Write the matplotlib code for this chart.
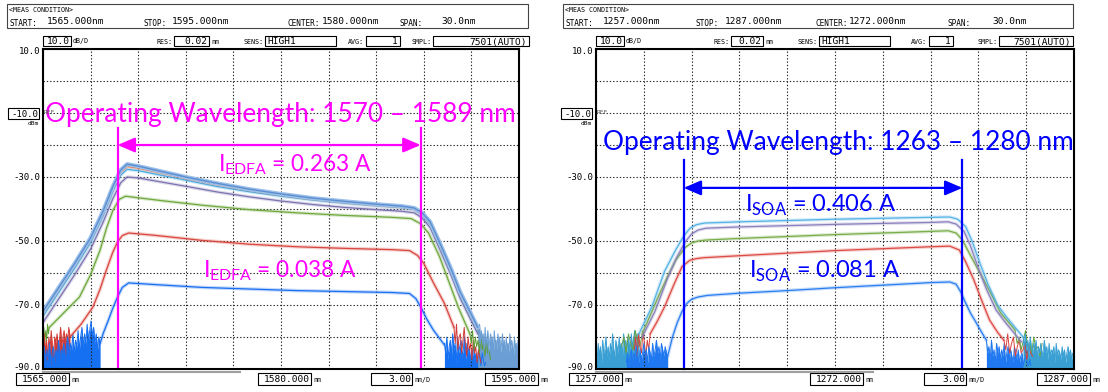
import numpy as np
import matplotlib.pyplot as plt
from matplotlib.patches import Rectangle
from matplotlib.lines import Line2D

# ---------------- EDFA panel (left) ----------------
edfa_span = (1565.0, 1595.0)
edfa_steel_wl = [1565.0, 1566.0, 1567.0, 1568.0, 1568.8, 1569.4, 1569.9, 1570.3, 1571.0, 1572.5, 1574.0, 1576.0, 1578.0,
                 1580.0, 1582.0, 1584.0, 1586.0, 1587.6, 1588.4, 1588.9, 1589.4, 1590.0, 1590.7, 1591.3, 1592.0, 1592.4]
edfa_steel_db = [-72.0, -64.5, -57.0, -49.0, -40.5, -33.0, -27.8, -26.0, -26.6, -28.3, -30.0, -32.0, -33.8,
                 -35.3, -36.6, -37.6, -38.5, -39.1, -39.7, -41.2, -44.0, -50.5, -58.5, -66.0, -73.0, -77.0]
edfa_orange_db = [-72.5, -65.0, -57.5, -49.5, -41.0, -33.6, -28.5, -26.7, -27.2, -28.8, -30.4, -32.4, -34.1,
                  -35.6, -36.9, -37.9, -38.8, -39.4, -40.0, -41.5, -44.4, -51.0, -59.0, -66.5, -73.5, -77.5]
edfa_lblue_db = [-73.5, -66.0, -58.5, -50.5, -42.0, -34.6, -29.4, -27.6, -28.0, -29.5, -31.0, -33.0, -34.6,
                 -36.0, -37.2, -38.2, -39.0, -39.6, -40.2, -41.8, -44.8, -51.5, -59.5, -67.0, -74.0, -78.0]
edfa_purple_db = [-75.5, -68.0, -60.5, -52.5, -44.0, -36.8, -31.8, -30.0, -30.3, -31.6, -32.9, -34.7, -36.2,
                  -37.5, -38.6, -39.5, -40.2, -40.7, -41.2, -42.8, -45.8, -52.5, -60.5, -68.0, -75.0, -79.0]
edfa_green_wl = [1565.4, 1566.3, 1567.3, 1568.0, 1568.6, 1569.0, 1569.4, 1569.8, 1570.2, 1571.0, 1572.5, 1575.0,
                 1578.0, 1581.0, 1584.0, 1587.0, 1588.2, 1588.8, 1589.3, 1590.0, 1590.6, 1591.2, 1591.9]
edfa_green_db = [-77.0, -72.5, -67.5, -60.5, -52.8, -46.0, -40.5, -37.0, -36.0, -36.5, -37.4, -38.8,
                 -40.2, -41.2, -42.0, -42.6, -43.0, -44.6, -47.5, -55.0, -63.0, -71.0, -79.0]
edfa_red_wl = [1566.7, 1567.4, 1568.15, 1568.6, 1569.0, 1569.4, 1569.7, 1570.0, 1570.4, 1572.0, 1575.0, 1578.0,
               1581.0, 1584.0, 1587.0, 1588.1, 1588.6, 1589.0, 1589.6, 1590.3, 1590.9]
edfa_red_db = [-80.0, -76.0, -70.6, -65.0, -59.0, -53.5, -50.3, -48.3, -47.5, -48.2, -49.8, -51.0,
               -51.8, -52.3, -52.7, -53.0, -54.5, -57.0, -63.0, -69.5, -77.0]
edfa_blue_wl = [1568.6, 1568.8, 1569.1, 1569.4, 1569.7, 1570.0, 1570.4, 1572.0, 1575.0, 1578.0, 1581.0, 1584.0,
                1587.0, 1588.1, 1588.5, 1588.8, 1589.2, 1589.6, 1590.0, 1590.3]
edfa_blue_db = [-82.0, -78.8, -75.0, -71.0, -67.5, -64.5, -63.1, -63.6, -64.5, -65.0, -65.5, -65.8,
                -66.1, -66.4, -68.0, -70.6, -74.5, -77.8, -80.5, -82.5]

# noise floor samples (start nm, stop nm, peak values)
edfa_noise_green_l = (1565.0, 1565.4, [-80, -77, -82, -78, -81, -76, -79, -77])
edfa_noise_red_l = (1565.0, 1566.7, [-82, -79, -85, -81, -87, -80, -84, -78, -83, -86, -80, -82, -79, -84, -81, -77,
                                     -83, -80, -78, -82, -79, -81, -77, -80])
edfa_noise_blue_l = (1565.0, 1568.6, [-86, -83, -88, -84, -87, -82, -89, -85, -83, -88, -84, -86, -81, -87, -84, -85,
                                      -82, -88, -83, -80, -86, -82, -84, -79, -85, -81, -83, -78, -84, -80, -77, -83,
                                      -79, -82, -76, -81, -78, -75, -80, -77, -82, -79, -84, -80, -82])
edfa_noise_blue_r = (1590.3, 1592.9, [-82, -85, -80, -87, -83, -81, -86, -79, -84, -82, -88, -80, -85, -83, -81, -86,
                                      -84, -80, -87, -82, -85, -83, -88, -84, -86, -82, -87, -85, -88, -84, -86, -89,
                                      -85, -87, -89, -88])
edfa_noise_red_r = (1590.9, 1592.6, [-77, -82, -76, -84, -80, -79, -85, -81, -77, -83, -86, -80, -84, -82, -87, -81,
                                     -85, -83, -88, -84, -86, -88])
edfa_noise_green_r = (1591.9, 1593.2, [-79, -82, -78, -84, -80, -83, -81, -85, -79, -84, -82, -86, -81, -85, -84, -87])
edfa_noise_steel_r = (1592.4, 1595.0, [-77, -80, -76, -82, -78, -81, -79, -84, -77, -83, -80, -78, -85, -81, -79, -83,
                                       -80, -86, -78, -82, -81, -84, -79, -83, -80, -85, -82, -79, -84, -81, -86, -80,
                                       -83, -82, -85, -79, -84, -81, -83, -86, -80, -84, -82, -85, -81, -83])

# ---------------- SOA panel (right) ----------------
soa_span = (1257.0, 1287.0)
soa_lblue_wl = [1259.7, 1260.5, 1261.3, 1262.0, 1262.5, 1262.9, 1263.3, 1263.8, 1266.0, 1269.0, 1272.0, 1275.0,
                1278.0, 1279.2, 1279.7, 1280.2, 1280.6, 1281.1, 1281.6, 1282.2, 1282.8, 1283.3, 1283.8]
soa_lblue_db = [-79.0, -70.6, -59.5, -52.8, -48.5, -46.0, -44.9, -44.4, -44.0, -43.6, -43.2, -42.9,
                -42.6, -42.5, -43.2, -45.5, -50.0, -57.0, -63.5, -70.0, -74.0, -77.0, -80.0]
soa_purple_wl = [1259.9, 1260.7, 1261.5, 1262.1, 1262.6, 1263.0, 1263.4, 1263.9, 1266.0, 1269.0, 1272.0, 1275.0,
                 1278.0, 1279.1, 1279.6, 1280.1, 1280.5, 1281.0, 1281.5, 1282.1, 1282.7, 1283.2, 1283.7]
soa_purple_db = [-80.0, -72.0, -61.5, -54.8, -50.3, -47.8, -46.6, -46.0, -45.6, -45.2, -44.8, -44.5,
                 -44.2, -44.0, -44.7, -47.0, -51.5, -58.5, -65.0, -71.5, -75.5, -78.5, -81.5]
soa_green_wl = [1259.9, 1260.9, 1261.5, 1262.0, 1262.6, 1263.0, 1263.4, 1263.9, 1266.0, 1269.0, 1272.0, 1275.0,
                1278.0, 1279.1, 1279.6, 1280.0, 1280.5, 1281.1, 1281.8, 1282.4, 1283.3]
soa_green_db = [-79.0, -67.5, -61.0, -56.0, -52.0, -50.6, -50.0, -49.7, -49.2, -48.6, -48.0, -47.5,
                -47.0, -46.8, -47.5, -49.7, -54.5, -60.0, -66.5, -72.5, -77.8]
soa_red_wl = [1260.4, 1260.8, 1261.3, 1261.9, 1262.4, 1262.9, 1263.3, 1263.8, 1266.0, 1269.0, 1272.0, 1275.0,
              1278.0, 1279.2, 1279.8, 1280.2, 1280.7, 1281.2, 1281.7, 1282.2, 1282.6]
soa_red_db = [-79.0, -75.5, -70.6, -63.5, -58.0, -56.0, -55.5, -55.2, -54.6, -53.8, -53.0, -52.4,
              -51.8, -51.6, -52.8, -56.5, -62.0, -68.5, -74.7, -78.5, -81.0]
soa_blue_wl = [1261.5, 1261.8, 1262.1, 1262.4, 1262.7, 1263.0, 1263.4, 1264.0, 1266.0, 1269.0, 1272.0, 1275.0,
               1278.0, 1279.2, 1279.6, 1279.9, 1280.2, 1280.5, 1280.8, 1281.2, 1281.5]
soa_blue_db = [-86.0, -80.0, -75.5, -72.0, -69.5, -68.2, -67.5, -67.0, -66.3, -65.5, -64.6, -63.8,
               -63.0, -62.8, -63.5, -66.0, -69.4, -72.5, -75.0, -78.5, -81.0]

soa_noise_lblue_l = (1257.0, 1259.7, [-84, -87, -82, -86, -83, -88, -81, -85, -84, -80, -86, -83, -87, -82, -85, -79,
                                      -84, -86, -81, -83, -85, -80, -84, -82, -86, -79, -83, -81, -85, -80, -82, -84,
                                      -79, -83, -81, -78, -82, -80, -79, -79])
soa_noise_green_l = (1258.6, 1259.9, [-83, -80, -85, -79, -82, -84, -78, -81, -83, -79])
soa_noise_red_l = (1259.4, 1260.4, [-84, -80, -86, -79, -83, -85, -78, -82, -86, -81, -84, -79])
soa_noise_blue_l = (1258.9, 1261.5, [-88, -85, -89, -86, -84, -88, -85, -87, -83, -86, -88, -84, -87, -85, -82, -86,
                                     -84, -88, -83, -85, -87, -82, -86, -84, -81, -85, -83, -87, -82, -84, -86, -83,
                                     -85, -86])
soa_noise_blue_r = (1281.5, 1284.3, [-81, -85, -83, -87, -81, -86, -84, -88, -82, -85, -83, -87, -84, -86, -82, -88,
                                     -85, -83, -87, -84, -86, -88, -83, -85, -87, -84, -88, -86, -85, -89, -87, -86,
                                     -88, -89, -87, -89])
soa_noise_red_r = (1282.6, 1284.4, [-81, -84, -79, -85, -82, -80, -86, -83, -81, -85, -84, -82, -87, -83, -85, -86])
soa_noise_green_r = (1283.3, 1285.0, [-78, -82, -80, -84, -81, -78, -83, -82, -85, -80, -84, -83, -86, -82])
soa_noise_lblue_r = (1283.8, 1287.0, [-80, -83, -79, -84, -81, -86, -80, -83, -85, -82, -84, -81, -87, -83, -85, -82,
                                      -86, -84, -81, -85, -83, -87, -82, -86, -84, -85, -83, -88, -82, -86, -84, -85,
                                      -87, -83, -86, -84, -88, -85, -83, -86, -84, -87, -85, -86])

edfa_band = (1569.7, 1588.8)
soa_band = (1262.5, 1280.0)

W, H = 1108, 392
fig = plt.figure(figsize=(W / 100, H / 100), dpi=100)
mono = 'DejaVu Sans Mono'
sans = ['Lato', 'DejaVu Sans']


def fig_text(x, y, s, size=6.8, ha='left', color='black'):
    fig.text(x / W, 1 - y / H, s, fontsize=size, ha=ha, va='center_baseline', family=mono, color=color)


def fig_box(x0, y0, x1, y1, lw=0.8, color='black'):
    fig.add_artist(Rectangle((x0 / W, 1 - y1 / H), (x1 - x0) / W, (y1 - y0) / H,
                             transform=fig.transFigure, fill=False, ec=color, lw=lw))


def fig_line(x0, x1, y, color, lw):
    fig.add_artist(Line2D([x0 / W, x1 / W], [1 - y / H, 1 - y / H], transform=fig.transFigure, color=color, lw=lw))


def make_axes(x0, x1, span):
    ax = fig.add_axes([x0 / W, 1 - 369 / H, (x1 - x0) / W, 320 / H])
    ax.set_xlim(*span)
    ax.set_ylim(-90, 10)
    ax.set_xticks(np.linspace(span[0], span[1], 11))
    ax.set_yticks(np.arange(-90, 11, 10))
    ax.tick_params(length=0, labelbottom=False, labelleft=False)
    ax.grid(True, color='#222222', lw=0.8, linestyle=(0, (1.2, 1.8)))
    for sp in ax.spines.values():
        sp.set_linewidth(1.5)
    return ax


def trace(ax, wl, db, color):
    ax.plot(wl, db, color=color, lw=2.6, alpha=0.25, solid_capstyle='round')
    ax.plot(wl, db, color=color, lw=0.9)


def noise(ax, block, color, fill=True):
    start, stop, vals = block
    x = np.linspace(start, stop, len(vals))
    if fill:
        ax.fill_between(x, vals, -90, color=color, lw=0)
    ax.plot(x, vals, color=color, lw=0.7)


# ---------- left panel ----------
ax1 = make_axes(43, 519, edfa_span)
noise(ax1, edfa_noise_green_l, '#5f9c32', fill=False)
noise(ax1, edfa_noise_red_l, '#d23a35')
noise(ax1, edfa_noise_blue_l, '#1570f2')
noise(ax1, edfa_noise_blue_r, '#1570f2')
noise(ax1, edfa_noise_red_r, '#d23a35', fill=False)
noise(ax1, edfa_noise_green_r, '#5f9c32', fill=False)
noise(ax1, edfa_noise_steel_r, '#6a9ed4')
trace(ax1, edfa_blue_wl, edfa_blue_db, '#1a6ff0')
trace(ax1, edfa_red_wl, edfa_red_db, '#d8463e')
trace(ax1, edfa_green_wl, edfa_green_db, '#6fa83c')
trace(ax1, edfa_steel_wl, edfa_purple_db, '#7b72b0')
trace(ax1, edfa_steel_wl, edfa_lblue_db, '#45aee6')
trace(ax1, edfa_steel_wl, edfa_orange_db, '#f26b3a')
ax1.plot(edfa_steel_wl, edfa_steel_db, color='#9cc0ea', lw=3.0)
ax1.plot(edfa_steel_wl, edfa_steel_db, color='#5b8ed0', lw=1.0)

mag = '#ff00ff'
for b in edfa_band:
    ax1.plot([b, b], [-14.7, -90], color=mag, lw=1.6, clip_on=False)
ax1.annotate('', xy=(edfa_band[1], -20), xytext=(edfa_band[0], -20),
             arrowprops=dict(arrowstyle='<|-|>,head_length=0.7,head_width=0.3', color=mag, lw=1.6,
                             mutation_scale=15, shrinkA=0, shrinkB=0))
ax1.text(1565.13, -12.8, 'Operating Wavelength: 1570 \u2013 1589 nm', color=mag, fontsize=18.9, family=sans,
         ha='left', va='baseline')
ax1.text(1576.0, -28.1, r'I$_\mathregular{EDFA}$ = 0.263 A', color=mag, fontsize=16.3, family=sans,
         ha='left', va='baseline')
ax1.text(1575.1, -61.25, r'I$_\mathregular{EDFA}$ = 0.038 A', color=mag, fontsize=16.3, family=sans,
         ha='left', va='baseline')

# ---------- right panel ----------
ax2 = make_axes(596, 1074, soa_span)
noise(ax2, soa_noise_lblue_l, '#3aa0d4')
noise(ax2, soa_noise_green_l, '#6aa63c', fill=False)
noise(ax2, soa_noise_red_l, '#d8423d', fill=False)
noise(ax2, soa_noise_blue_l, '#1f78f0')
noise(ax2, soa_noise_blue_r, '#1f78f0')
noise(ax2, soa_noise_red_r, '#d8423d', fill=False)
noise(ax2, soa_noise_green_r, '#6aa63c', fill=False)
noise(ax2, soa_noise_lblue_r, '#3aa0d4')
trace(ax2, soa_blue_wl, soa_blue_db, '#2a7ef2')
trace(ax2, soa_red_wl, soa_red_db, '#dd4b45')
trace(ax2, soa_green_wl, soa_green_db, '#78ad48')
trace(ax2, soa_purple_wl, soa_purple_db, '#8a80bd')
trace(ax2, soa_lblue_wl, soa_lblue_db, '#55b3e6')

blu = '#0000ff'
for b in soa_band:
    ax2.plot([b, b], [-24.7, -90], color=blu, lw=1.6, clip_on=False)
ax2.annotate('', xy=(soa_band[1], -33.4), xytext=(soa_band[0], -33.4),
             arrowprops=dict(arrowstyle='<|-|>,head_length=0.7,head_width=0.3', color=blu, lw=1.6,
                             mutation_scale=15, shrinkA=0, shrinkB=0))
ax2.text(1257.44, -21.6, 'Operating Wavelength: 1263 \u2013 1280 nm', color=blu, fontsize=18.9, family=sans,
         ha='left', va='baseline')
ax2.text(1266.35, -40.9, r'I$_\mathregular{SOA}$ = 0.406 A', color=blu, fontsize=17, family=sans,
         ha='left', va='baseline')
ax2.text(1266.6, -61.6, r'I$_\mathregular{SOA}$ = 0.081 A', color=blu, fontsize=17, family=sans,
         ha='left', va='baseline')

# ---------- instrument screen text ----------
small = 4.8
head = 5.6
panels = [
    dict(frame=(43, 519), hdr=(7, 528), start=(9, 47), stop=(143, 172), center=(288, 322), span=(400, 441),
         start_v='1565.000nm', stop_v='1595.000nm', center_v='1580.000nm',
         res=(174, 209), sens=(265, 336), avg=(366, 400), smpl=(433, 529),
         xlabels=[('1565.000', 16), ('1580.000', 258), ('1595.000', 485)], pitch=(371, 412), bar=240),
    dict(frame=(596, 1074), hdr=(563, 1073), start=(565, 603), stop=(696, 725), center=(815, 849), span=(948, 992),
         start_v='1257.000nm', stop_v='1287.000nm', center_v='1272.000nm',
         res=(731, 763), sens=(819, 890), avg=(929, 953), smpl=(999, 1073),
         xlabels=[('1257.000', 569), ('1272.000', 810), ('1287.000', 1037)], pitch=(924, 966), bar=873),
]
for p in panels:
    f0, f1 = p['frame']
    fig_box(p['hdr'][0], 4, p['hdr'][1], 28, color='#444444')
    fig_text(p['hdr'][0] + 2, 10, '<MEAS CONDITION>', small)
    for lab, key, val in [('START:', 'start', p['start_v']), ('STOP:', 'stop', p['stop_v']),
                          ('CENTER:', 'center', p['center_v'])]:
        fig_text(p[key][0], 22, lab, head)
        fig_text(p[key][1], 21, val, 6.8)
    fig_text(p['span'][0], 22, 'SPAN:', head)
    fig_text(p['span'][1], 21, '30.0nm', 6.8)

    # settings row
    fig_box(f0, 36, f0 + 28, 46)
    fig_text(f0 + 27, 41, '10.0', 6.8, ha='right')
    fig_text(f0 + 30, 41, 'dB/D', small)
    for lab, key, val, align in [('RES:', 'res', '0.02', 'right'), ('SENS:', 'sens', 'HIGH1', 'left'),
                                 ('AVG:', 'avg', '1', 'right'), ('SMPL:', 'smpl', '7501(AUTO)', 'right')]:
        b0, b1 = p[key]
        fig_text(b0 - 2, 41, lab, small, ha='right')
        fig_box(b0, 36, b1, 46)
        fig_text(b1 - 2 if align == 'right' else b0 + 2, 41, val, 6.8, ha=align)
    fig_text(p['res'][1] + 2, 41, 'nm', small)

    # y scale labels
    for lab, yy in [('10.0', 50), ('-30.0', 177), ('-50.0', 241), ('-70.0', 305), ('-90.0', 366)]:
        fig_text(f0 - 3, yy, lab, 6.5, ha='right')
    fig_box(f0 - 35, 108, f0 - 4, 119)
    fig_text(f0 - 5, 113.5, '-10.0', 6.5, ha='right')
    fig_text(f0 + 1, 112, 'REF', 4.4, color='#555555')
    fig_text(f0 - 4, 123, 'dBm', 4.4, ha='right')

    # x scale labels
    fig_line(f0, p['bar'], 371.5, '#a0a0a0', 1.5)
    for lab, bx in p['xlabels']:
        fig_box(bx, 373, bx + 53, 385)
        fig_text(bx + 52, 379, lab, 6.8, ha='right')
        fig_text(bx + 55, 379.5, 'nm', small)
    fig_box(p['pitch'][0], 373, p['pitch'][1], 385)
    fig_text(p['pitch'][1] - 1, 379, '3.00', 6.8, ha='right')
    fig_text(p['pitch'][1] + 2, 379.5, 'nm/D', small)

fig.savefig('out.png', dpi=100)
